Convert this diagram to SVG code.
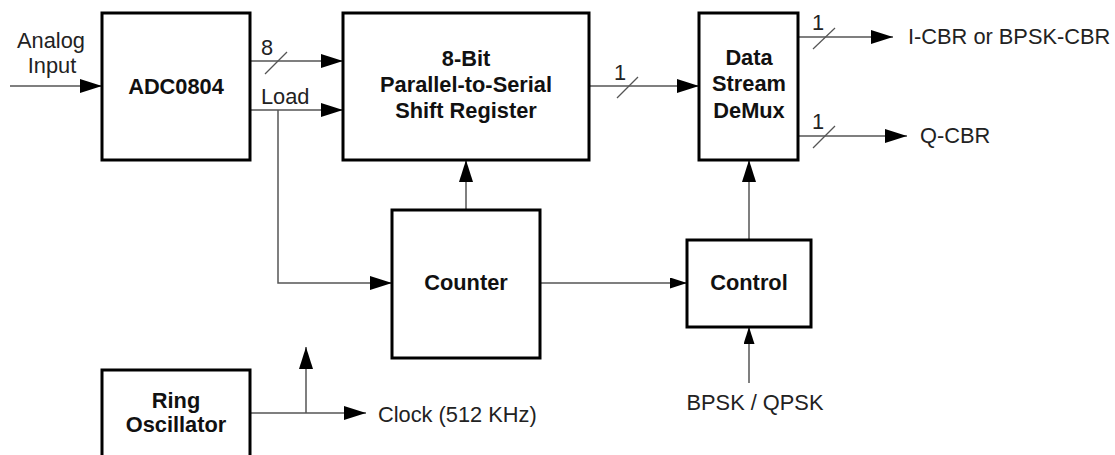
<svg xmlns="http://www.w3.org/2000/svg" width="1115" height="455" viewBox="0 0 1115 455">
<defs>
<style>
.box{fill:#fff;stroke:#000;stroke-width:3}
.ln{fill:none;stroke:#555;stroke-width:1.5}
.sl{fill:none;stroke:#555;stroke-width:1.2}
.b{font-family:"Liberation Sans",Arial,sans-serif;font-weight:bold;font-size:21.8px;fill:#111;text-anchor:middle}
.r{font-family:"Liberation Sans",Arial,sans-serif;font-size:21.8px;fill:#222}
.a{marker-end:url(#ah)}
.s{marker-end:url(#ahs)}
</style>
<marker id="ah" markerUnits="userSpaceOnUse" markerWidth="22" markerHeight="14" refX="22" refY="7" orient="auto" viewBox="0 0 22 14"><path d="M0,0 L22,7 L0,14 z" fill="#000"/></marker>
<marker id="ahs" markerUnits="userSpaceOnUse" markerWidth="17" markerHeight="11" refX="17" refY="5.5" orient="auto" viewBox="0 0 17 11"><path d="M0,0 L17,5.5 L0,11 z" fill="#000"/></marker>
</defs>
<rect width="1115" height="455" fill="#fff"/>
<g id="connectors">
<line class="ln a" x1="10" y1="86" x2="102" y2="86"/>
<line class="ln a" x1="250" y1="61" x2="343" y2="61"/>
<line class="sl" x1="265" y1="74" x2="287" y2="52"/>
<line class="ln a" x1="250" y1="110" x2="343" y2="110"/>
<polyline class="ln a" points="278,110 278,283 392,283"/>
<line class="ln a" x1="589" y1="86" x2="699" y2="86"/>
<line class="sl" x1="617" y1="98" x2="638" y2="77"/>
<line class="ln a" x1="798" y1="37" x2="893" y2="37"/>
<line class="sl" x1="813" y1="49" x2="835" y2="28"/>
<line class="ln a" x1="798" y1="136" x2="907" y2="136"/>
<line class="sl" x1="813" y1="148" x2="835" y2="126"/>
<line class="ln a" x1="466" y1="210" x2="466" y2="160"/>
<line class="ln s" x1="540" y1="283" x2="687" y2="283"/>
<line class="ln a" x1="749" y1="240" x2="749" y2="160"/>
<line class="ln s" x1="749" y1="383" x2="749" y2="327"/>
<line class="ln a" x1="250" y1="413" x2="366" y2="413"/>
<line class="ln a" x1="306" y1="413" x2="306" y2="347"/>
</g>
<g id="labels">
<text class="r" x="51" y="48" text-anchor="middle">Analog</text>
<text class="r" x="52" y="73" text-anchor="middle">Input</text>
<text class="r" x="261" y="55">8</text>
<text class="r" x="261" y="104">Load</text>
<text class="r" x="614" y="80">1</text>
<text class="r" x="812" y="30">1</text>
<text class="r" x="812" y="129">1</text>
<text class="r" x="908" y="44">I-CBR or BPSK-CBR</text>
<text class="r" x="920" y="143">Q-CBR</text>
<text class="r" x="378" y="422">Clock (512 KHz)</text>
<text class="r" x="755" y="410" text-anchor="middle">BPSK / QPSK</text>
</g>
<g id="adc">
<rect class="box" x="102" y="13" width="148" height="147"/>
<text class="b" x="176" y="94">ADC0804</text>
</g>
<g id="shiftreg">
<rect class="box" x="343" y="13" width="246" height="147"/>
<text class="b" x="466" y="66">8-Bit</text>
<text class="b" x="466" y="92">Parallel-to-Serial</text>
<text class="b" x="466" y="118">Shift Register</text>
</g>
<g id="demux">
<rect class="box" x="699" y="13" width="99" height="147"/>
<text class="b" x="749" y="65">Data</text>
<text class="b" x="749" y="91">Stream</text>
<text class="b" x="749" y="118">DeMux</text>
</g>
<g id="counter">
<rect class="box" x="392" y="210" width="148" height="148"/>
<text class="b" x="466" y="290">Counter</text>
</g>
<g id="control">
<rect class="box" x="687" y="240" width="124" height="87"/>
<text class="b" x="749" y="290">Control</text>
</g>
<g id="ringosc">
<rect class="box" x="102" y="370" width="148" height="140"/>
<text class="b" x="176" y="408">Ring</text>
<text class="b" x="176" y="432">Oscillator</text>
</g>
</svg>
